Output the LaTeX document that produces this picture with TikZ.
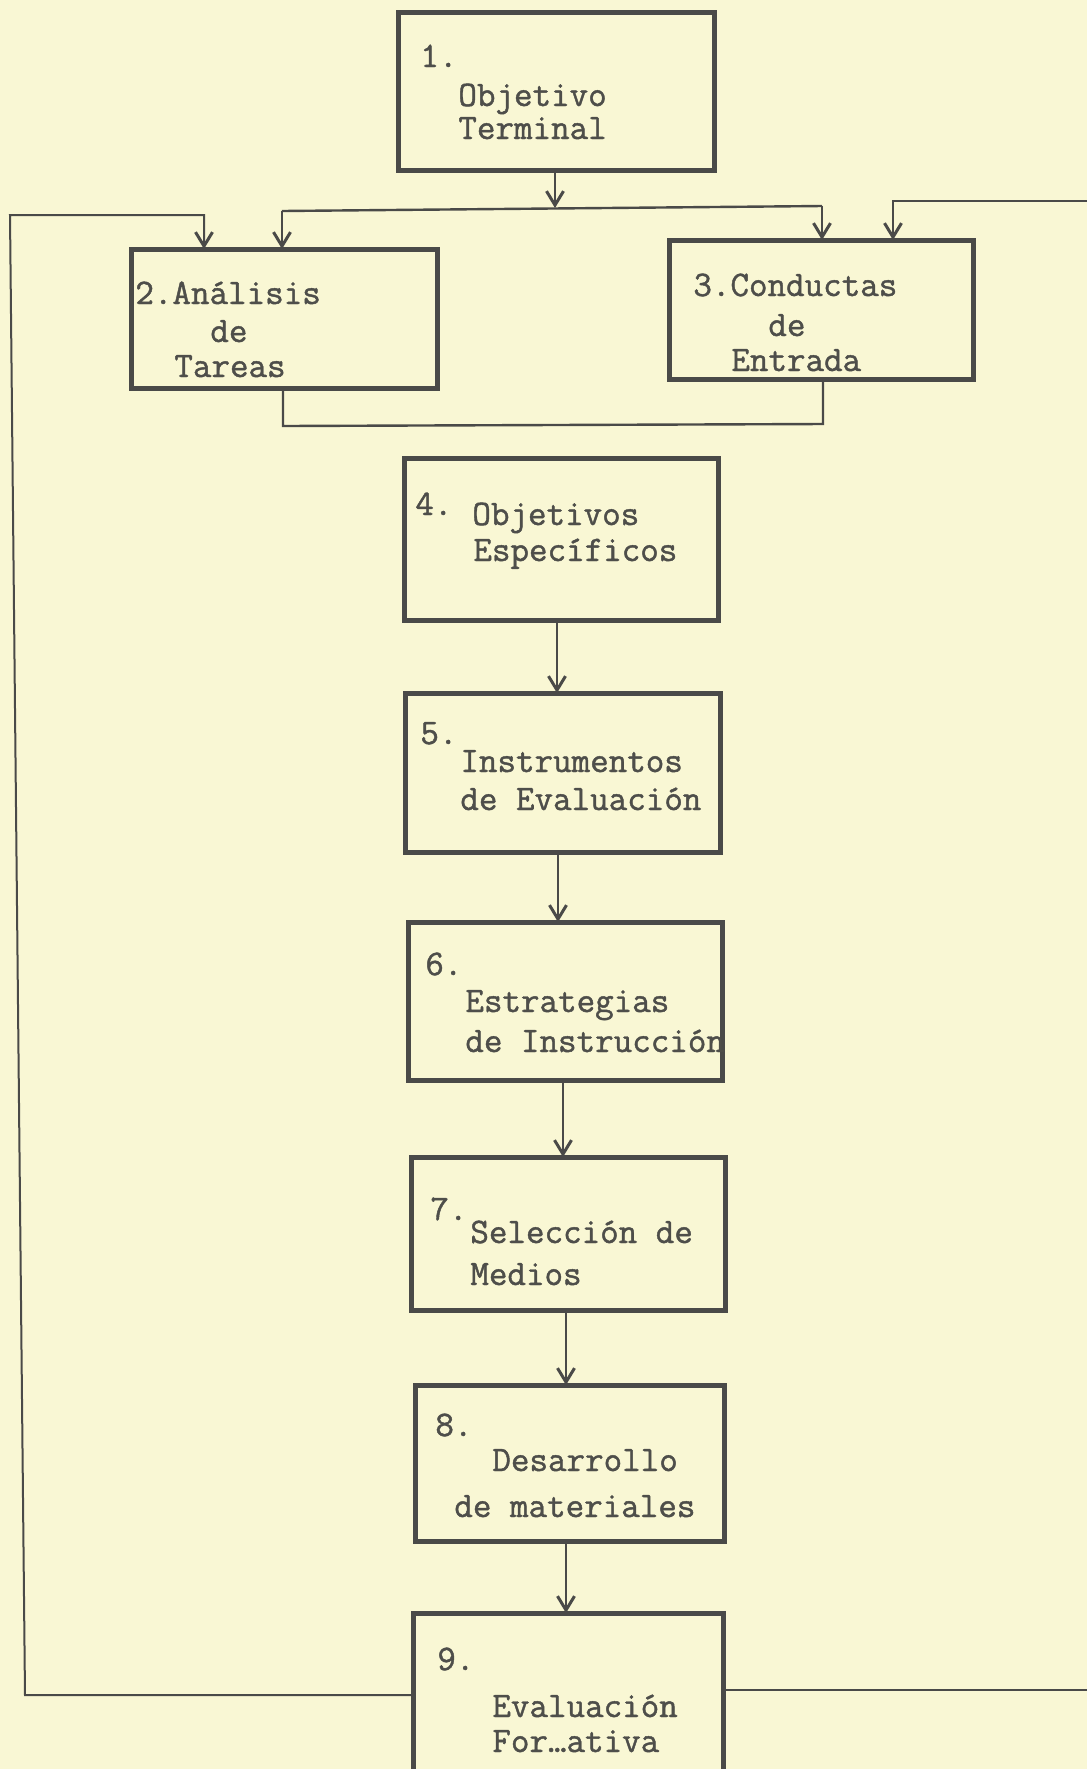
\documentclass[tikz,border=0pt]{standalone}
\usepackage{fontspec}
\setmonofont{Latin Modern Mono}[FakeBold=1.2]
\usetikzlibrary{arrows.meta}

\definecolor{paper}{RGB}{249,247,212}
\definecolor{ink}{RGB}{74,74,72}
\definecolor{typeink}{RGB}{78,78,74}

\tikzset{
  stepbox/.style={draw=ink, line width=2.5pt, inner sep=0pt, outer sep=0pt,
                  minimum width=#1},
  conn/.style={draw=ink, line width=1.2pt, line join=miter},
  thinconn/.style={draw=ink, line width=1pt},
  arr/.style={-{Straight Barb[length=7pt,width=8.5pt,line width=1.5pt]}},
  lbl/.style={anchor=base west, inner sep=0pt, text=typeink,
              font=\ttfamily\fontsize{18}{20}\selectfont},
}

\begin{document}
\begin{tikzpicture}[x=0.5pt, y=-0.5pt]
  % page
  \useasboundingbox (0,0) rectangle (1087,1769);
  \fill[paper] (0,0) rectangle (1087,1769);
  \clip (0,0) rectangle (1087,1769);

  % boxes
  \node[stepbox=158pt, minimum height=79pt]   (B1) at (556,91)     {};
  \node[stepbox=153pt, minimum height=69.5pt] (B2) at (284,318.5)  {};
  \node[stepbox=152pt, minimum height=69.5pt] (B3) at (821,309.5)  {};
  \node[stepbox=157pt, minimum height=81pt]   (B4) at (561,539)    {};
  \node[stepbox=157.5pt, minimum height=79.5pt] (B5) at (562.5,772.5) {};
  \node[stepbox=157pt, minimum height=79pt]   (B6) at (565,1001)   {};
  \node[stepbox=157pt, minimum height=76.5pt] (B7) at (568,1233.5) {};
  \node[stepbox=154.5pt, minimum height=78pt] (B8) at (569.5,1463) {};
  \node[stepbox=155pt, minimum height=93pt]   (B9) at (568,1706)   {};

  % box texts
  \node[lbl] (t1n) at (420,67)  {1.};
  \node[lbl] (t1a) at (458,106) {Objetivo};
  \node[lbl] (t1b) at (458,139) {Terminal};

  \node[lbl] (t2a) at (135,304) {2.Análisis};
  \node[lbl] (t2b) at (210,342) {de};
  \node[lbl] (t2c) at (174,377) {Tareas};

  \node[lbl] (t3a) at (693,296) {3.Conductas};
  \node[lbl] (t3b) at (768,336) {de};
  \node[lbl] (t3c) at (731,371) {Entrada};

  \node[lbl] (t4n) at (415,515) {4.};
  \node[lbl] (t4a) at (472,525) {Objetivos};
  \node[lbl] (t4b) at (473,561) {Específicos};

  \node[lbl] (t5n) at (420,744) {5.};
  \node[lbl] (t5a) at (460,772) {Instrumentos};
  \node[lbl] (t5b) at (460,810) {de Evaluación};

  \node[lbl] (t6n) at (425,975)  {6.};
  \node[lbl] (t6a) at (465,1012) {Estrategias};
  \node[lbl] (t6b) at (465,1052) {de Instrucción};

  \node[lbl] (t7n) at (430,1220) {7.};
  \node[lbl] (t7a) at (470,1243) {Selección de};
  \node[lbl] (t7b) at (470,1285) {Medios};

  \node[lbl] (t8n) at (435,1436) {8.};
  \node[lbl] (t8a) at (492,1471) {Desarrollo};
  \node[lbl] (t8b) at (454,1517) {de materiales};

  \node[lbl] (t9n) at (437,1670) {9.};
  \node[lbl] (t9a) at (492,1717) {Evaluación};
  \node[lbl] (t9b) at (492,1752) {For…ativa};

  % distribution bar under box 1
  \coordinate (j1) at (555,208);
  \coordinate (jl) at (282,211);
  \coordinate (jr) at (822,206);
  \draw[conn, arr] (B1.south -| j1) -- (j1);
  \draw[conn] (jl) -- (jr);
  \draw[conn, arr] (jl) -- (B2.north -| jl);
  \draw[conn, arr] (jr) -- (B3.north -| jr);

  % link between boxes 2 and 3
  \coordinate (bl) at (283,426);
  \coordinate (br) at (823,424);
  \draw[conn] (B2.south -| bl) -- (bl) -- (br) -- (B3.south -| br);

  % main chain
  \coordinate (c45) at (557,0);
  \coordinate (c56) at (558,0);
  \coordinate (c67) at (563,0);
  \coordinate (c78) at (566,0);
  \coordinate (c89) at (566,0);
  \draw[conn, arr] (B4.south -| c45) -- (B5.north -| c45);
  \draw[conn, arr] (B5.south -| c56) -- (B6.north -| c56);
  \draw[conn, arr] (B6.south -| c67) -- (B7.north -| c67);
  \draw[conn, arr] (B7.south -| c78) -- (B8.north -| c78);
  \draw[conn, arr] (B8.south -| c89) -- (B9.north -| c89);

  % feedback loop on the left
  \coordinate (lb) at (25,1695);
  \coordinate (lt) at (10,215);
  \coordinate (lk) at (204,215);
  \draw[thinconn, arr] (B9.west |- lb) -- (lb) -- (lt) -- (lk) -- (B2.north -| lk);

  % feedback loop on the right
  \coordinate (rb) at (1100,1690);
  \coordinate (rt) at (1100,201);
  \coordinate (rk) at (893,201);
  \draw[conn, arr] (B9.east |- rb) -- (rb) -- (rt) -- (rk) -- (B3.north -| rk);
\end{tikzpicture}
\end{document}
